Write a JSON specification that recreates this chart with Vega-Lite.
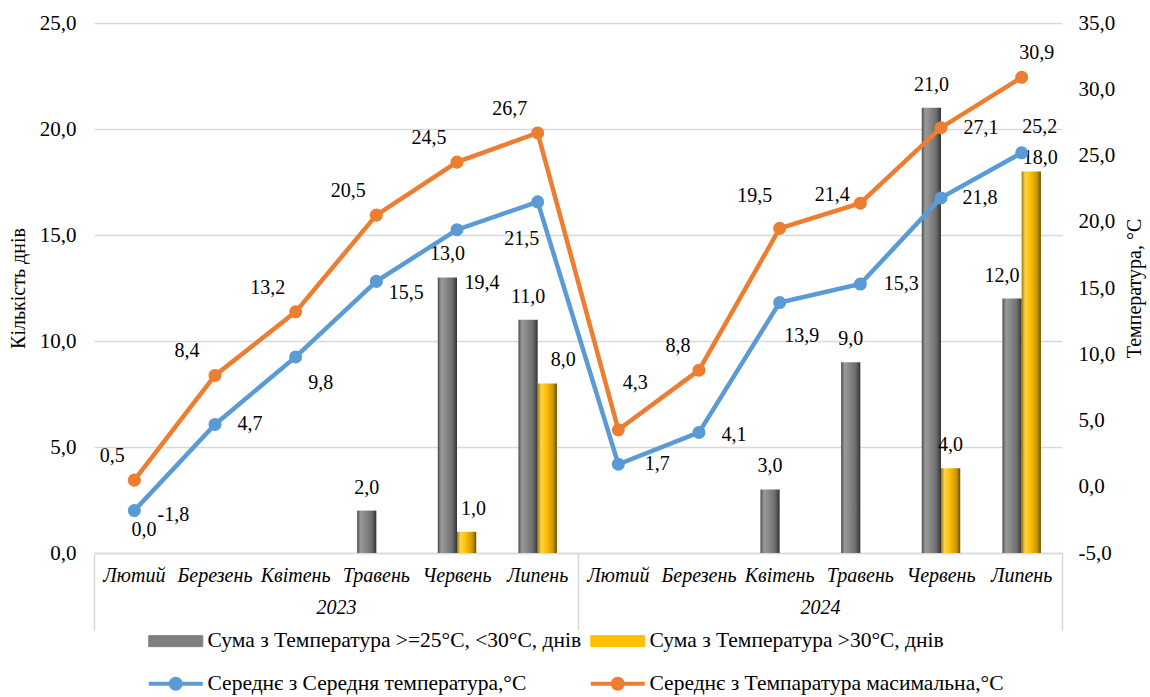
{
  "$schema": "https://vega.github.io/schema/vega-lite/v6.json",
  "width": 968,
  "height": 530,
  "autosize": "none",
  "padding": {"left": 94, "top": 23, "right": 88, "bottom": 144},
  "background": "white",
  "data": {"values": [
    {"n":1,"cat":"Лютий 2023","year":"2023","series":"Сума з Температура >=25°C, <30°C, днів","value":null},
    {"n":2,"cat":"Березень 2023","year":"2023","series":"Сума з Температура >=25°C, <30°C, днів","value":null},
    {"n":3,"cat":"Квітень 2023","year":"2023","series":"Сума з Температура >=25°C, <30°C, днів","value":null},
    {"n":4,"cat":"Травень 2023","year":"2023","series":"Сума з Температура >=25°C, <30°C, днів","value":2},
    {"n":5,"cat":"Червень 2023","year":"2023","series":"Сума з Температура >=25°C, <30°C, днів","value":13},
    {"n":6,"cat":"Липень 2023","year":"2023","series":"Сума з Температура >=25°C, <30°C, днів","value":11},
    {"n":7,"cat":"Лютий 2024","year":"2024","series":"Сума з Температура >=25°C, <30°C, днів","value":null},
    {"n":8,"cat":"Березень 2024","year":"2024","series":"Сума з Температура >=25°C, <30°C, днів","value":null},
    {"n":9,"cat":"Квітень 2024","year":"2024","series":"Сума з Температура >=25°C, <30°C, днів","value":3},
    {"n":10,"cat":"Травень 2024","year":"2024","series":"Сума з Температура >=25°C, <30°C, днів","value":9},
    {"n":11,"cat":"Червень 2024","year":"2024","series":"Сума з Температура >=25°C, <30°C, днів","value":21},
    {"n":12,"cat":"Липень 2024","year":"2024","series":"Сума з Температура >=25°C, <30°C, днів","value":12},
    {"n":1,"cat":"Лютий 2023","year":"2023","series":"Сума з Температура >30°C, днів","value":0},
    {"n":2,"cat":"Березень 2023","year":"2023","series":"Сума з Температура >30°C, днів","value":null},
    {"n":3,"cat":"Квітень 2023","year":"2023","series":"Сума з Температура >30°C, днів","value":null},
    {"n":4,"cat":"Травень 2023","year":"2023","series":"Сума з Температура >30°C, днів","value":null},
    {"n":5,"cat":"Червень 2023","year":"2023","series":"Сума з Температура >30°C, днів","value":1},
    {"n":6,"cat":"Липень 2023","year":"2023","series":"Сума з Температура >30°C, днів","value":8},
    {"n":7,"cat":"Лютий 2024","year":"2024","series":"Сума з Температура >30°C, днів","value":null},
    {"n":8,"cat":"Березень 2024","year":"2024","series":"Сума з Температура >30°C, днів","value":null},
    {"n":9,"cat":"Квітень 2024","year":"2024","series":"Сума з Температура >30°C, днів","value":null},
    {"n":10,"cat":"Травень 2024","year":"2024","series":"Сума з Температура >30°C, днів","value":null},
    {"n":11,"cat":"Червень 2024","year":"2024","series":"Сума з Температура >30°C, днів","value":4},
    {"n":12,"cat":"Липень 2024","year":"2024","series":"Сума з Температура >30°C, днів","value":18},
    {"n":1,"cat":"Лютий 2023","year":"2023","series":"Середнє з Середня температура,°C","value":-1.8},
    {"n":2,"cat":"Березень 2023","year":"2023","series":"Середнє з Середня температура,°C","value":4.7},
    {"n":3,"cat":"Квітень 2023","year":"2023","series":"Середнє з Середня температура,°C","value":9.8},
    {"n":4,"cat":"Травень 2023","year":"2023","series":"Середнє з Середня температура,°C","value":15.5},
    {"n":5,"cat":"Червень 2023","year":"2023","series":"Середнє з Середня температура,°C","value":19.4},
    {"n":6,"cat":"Липень 2023","year":"2023","series":"Середнє з Середня температура,°C","value":21.5},
    {"n":7,"cat":"Лютий 2024","year":"2024","series":"Середнє з Середня температура,°C","value":1.7},
    {"n":8,"cat":"Березень 2024","year":"2024","series":"Середнє з Середня температура,°C","value":4.1},
    {"n":9,"cat":"Квітень 2024","year":"2024","series":"Середнє з Середня температура,°C","value":13.9},
    {"n":10,"cat":"Травень 2024","year":"2024","series":"Середнє з Середня температура,°C","value":15.3},
    {"n":11,"cat":"Червень 2024","year":"2024","series":"Середнє з Середня температура,°C","value":21.8},
    {"n":12,"cat":"Липень 2024","year":"2024","series":"Середнє з Середня температура,°C","value":25.2},
    {"n":1,"cat":"Лютий 2023","year":"2023","series":"Середнє з Темпаратура масимальна,°C","value":0.5},
    {"n":2,"cat":"Березень 2023","year":"2023","series":"Середнє з Темпаратура масимальна,°C","value":8.4},
    {"n":3,"cat":"Квітень 2023","year":"2023","series":"Середнє з Темпаратура масимальна,°C","value":13.2},
    {"n":4,"cat":"Травень 2023","year":"2023","series":"Середнє з Темпаратура масимальна,°C","value":20.5},
    {"n":5,"cat":"Червень 2023","year":"2023","series":"Середнє з Темпаратура масимальна,°C","value":24.5},
    {"n":6,"cat":"Липень 2023","year":"2023","series":"Середнє з Темпаратура масимальна,°C","value":26.7},
    {"n":7,"cat":"Лютий 2024","year":"2024","series":"Середнє з Темпаратура масимальна,°C","value":4.3},
    {"n":8,"cat":"Березень 2024","year":"2024","series":"Середнє з Темпаратура масимальна,°C","value":8.8},
    {"n":9,"cat":"Квітень 2024","year":"2024","series":"Середнє з Темпаратура масимальна,°C","value":19.5},
    {"n":10,"cat":"Травень 2024","year":"2024","series":"Середнє з Темпаратура масимальна,°C","value":21.4},
    {"n":11,"cat":"Червень 2024","year":"2024","series":"Середнє з Темпаратура масимальна,°C","value":27.1},
    {"n":12,"cat":"Липень 2024","year":"2024","series":"Середнє з Темпаратура масимальна,°C","value":30.9}
  ]},
  "layer": [
    {
      "layer": [
        {
          "layer": [
            {
              "transform": [{"filter": "datum.series === 'Сума з Температура >=25°C, <30°C, днів' && datum.value != null"}],
              "mark": {"type": "bar", "fill": {"gradient": "linear", "x1": 0, "y1": 0, "x2": 1, "y2": 0, "stops": [
                {"offset": 0, "color": "#4d4d4d"}, {"offset": 0.18, "color": "#9a9a9a"}, {"offset": 0.4, "color": "#8a8a8a"}, {"offset": 0.75, "color": "#6e6e6e"}, {"offset": 1, "color": "#333333"}]}},
              "encoding": {
                "x": {"field": "cat", "type": "nominal", "sort": null,
                  "scale": {"type": "band", "domain": ["Лютий 2023","Березень 2023","Квітень 2023","Травень 2023","Червень 2023","Липень 2023","Лютий 2024","Березень 2024","Квітень 2024","Травень 2024","Червень 2024","Липень 2024"], "paddingInner": 0.523, "paddingOuter": 0.2615},
                  "axis": {"orient": "bottom", "title": null, "labelExpr": "split(datum.label, ' ')[0]", "labelAngle": 0, "labelFont": "Liberation Serif", "labelFontStyle": "italic", "labelFontSize": 20, "labelPadding": 12, "ticks": false, "domainColor": "#D9D9D9", "domainWidth": 1.5, "grid": false}},
                "xOffset": {"field": "series", "type": "nominal", "scale": {"domain": ["Сума з Температура >=25°C, <30°C, днів", "Сума з Температура >30°C, днів"]}},
                "y": {"field": "value", "type": "quantitative",
                  "scale": {"domain": [0, 25], "nice": false},
                  "axis": {"orient": "left", "title": "Кількість днів", "values": [0,5,10,15,20,25], "format": ".1f", "grid": true, "gridColor": "#D9D9D9", "gridWidth": 1.5, "domain": false, "ticks": false, "labelPadding": 18, "labelFont": "Liberation Serif", "titleFont": "Liberation Serif", "labelFontSize": 21, "titleFontSize": 20, "titlePadding": 11}}
              }
            },
            {
              "transform": [{"filter": "datum.series === 'Сума з Температура >30°C, днів' && datum.value != null"}],
              "mark": {"type": "bar", "fill": {"gradient": "linear", "x1": 0, "y1": 0, "x2": 1, "y2": 0, "stops": [
                {"offset": 0, "color": "#a07800"}, {"offset": 0.18, "color": "#ffd24d"}, {"offset": 0.45, "color": "#ffc000"}, {"offset": 0.8, "color": "#c89600"}, {"offset": 1, "color": "#6b5000"}]}},
              "encoding": {
                "x": {"field": "cat", "type": "nominal", "sort": null},
                "xOffset": {"field": "series", "type": "nominal"},
                "y": {"field": "value", "type": "quantitative"}
              }
            },
            {
              "transform": [{"filter": "datum.series === 'Сума з Температура >=25°C, <30°C, днів' && datum.value != null"}],
              "mark": {"type": "text", "font": "Liberation Serif", "fontSize": 20, "color": "#000000", "baseline": "middle", "align": "center",
                "dx": {"expr": "datum.cat === 'Липень 2024' ? -10 : 0"}, "dy": -23},
              "encoding": {
                "x": {"field": "cat", "type": "nominal", "sort": null},
                "xOffset": {"field": "series", "type": "nominal"},
                "y": {"field": "value", "type": "quantitative"},
                "text": {"field": "value", "type": "quantitative", "format": ".1f"}
              }
            },
            {
              "transform": [{"filter": "datum.series === 'Сума з Температура >30°C, днів' && datum.value != null"}],
              "mark": {"type": "text", "font": "Liberation Serif", "fontSize": 20, "color": "#000000", "baseline": "middle", "align": "center",
                "dx": {"expr": "datum.cat === 'Червень 2023' ? 7 : datum.cat === 'Липень 2023' ? 16 : datum.cat === 'Липень 2024' ? 9 : 0"},
                "dy": {"expr": "datum.cat === 'Липень 2024' ? -13 : -23"}},
              "encoding": {
                "x": {"field": "cat", "type": "nominal", "sort": null},
                "xOffset": {"field": "series", "type": "nominal"},
                "y": {"field": "value", "type": "quantitative"},
                "text": {"field": "value", "type": "quantitative", "format": ".1f"}
              }
            }
          ]
        },
        {
          "layer": [
            {
              "transform": [{"filter": "datum.series === 'Середнє з Середня температура,°C' || datum.series === 'Середнє з Темпаратура масимальна,°C'"}],
              "mark": {"type": "line", "strokeWidth": 4.5},
              "encoding": {
                "x": {"field": "cat", "type": "nominal", "sort": null},
                "y": {"field": "value", "type": "quantitative",
                  "scale": {"domain": [-5, 35], "nice": false, "zero": false},
                  "axis": {"orient": "right", "title": "Температура, °C", "values": [-5,0,5,10,15,20,25,30,35], "format": ".1f", "grid": false, "domain": false, "ticks": false, "labelPadding": 16, "labelFont": "Liberation Serif", "titleFont": "Liberation Serif", "labelFontSize": 21, "titleFontSize": 20, "titlePadding": 10, "titleAngle": 270, "titleBaseline": "top"}},
                "order": {"field": "n", "type": "quantitative"},
                "color": {"field": "series", "type": "nominal",
                  "scale": {"domain": ["Сума з Температура >=25°C, <30°C, днів", "Сума з Температура >30°C, днів", "Середнє з Середня температура,°C", "Середнє з Темпаратура масимальна,°C"], "range": ["#7F7F7F", "#FFC000", "#5B9BD5", "#ED7D31"]},
                  "legend": {"title": null, "orient": "none", "legendX": 54, "legendY": 607, "columns": 2, "direction": "horizontal", "symbolSize": 400, "labelOffset": 38, "rowPadding": 18, "columnPadding": 0, "padding": 0, "labelLimit": 700, "labelFont": "Liberation Serif", "labelFontSize": 21.5, "labelColor": "#000000",
                    "encode": {"symbols": {"update": {
                      "shape": {"signal": "datum.index < 2 ? 'M-1,-0.55H4.4V0.55H-1Z' : 'M-1,0H4.4M2.2,0A0.5,0.5 0 1 1 1.2,0A0.5,0.5 0 1 1 2.2,0'"},
                      "fill": {"signal": "datum.index === 0 ? '#8c8c8c' : datum.index === 1 ? '#FFC000' : datum.index === 2 ? '#5B9BD5' : '#ED7D31'"},
                      "stroke": {"signal": "datum.index === 0 ? '#404040' : datum.index === 1 ? '#7f6000' : datum.index === 2 ? '#5B9BD5' : '#ED7D31'"},
                      "strokeWidth": {"signal": "datum.index < 2 ? 1 : 4"},
                      "size": {"value": 400},
                      "opacity": {"value": 1},
                      "fillOpacity": {"value": 1},
                      "strokeOpacity": {"value": 1}
                    }}}}}
              }
            },
            {
              "transform": [{"filter": "datum.series === 'Середнє з Середня температура,°C' || datum.series === 'Середнє з Темпаратура масимальна,°C'"}],
              "mark": {"type": "point", "filled": true, "size": 170, "opacity": 1},
              "encoding": {
                "x": {"field": "cat", "type": "nominal", "sort": null},
                "y": {"field": "value", "type": "quantitative"},
                "color": {"field": "series", "type": "nominal"}
              }
            },
            {
              "transform": [{"filter": "datum.series === 'Середнє з Середня температура,°C'"}],
              "mark": {"type": "text", "font": "Liberation Serif", "fontSize": 20, "color": "#000000", "baseline": "middle", "align": "center",
                "dx": {"expr": "datum.cat === 'Березень 2023' ? 35 : datum.cat === 'Квітень 2023' ? 25 : datum.cat === 'Травень 2023' ? 30 : datum.cat === 'Червень 2023' ? 25 : datum.cat === 'Липень 2023' ? -16 : datum.cat === 'Березень 2024' ? 35 : datum.cat === 'Квітень 2024' ? 22 : datum.cat === 'Травень 2024' ? 41 : datum.cat === 'Липень 2024' ? 18 : 39"},
                "dy": {"expr": "datum.cat === 'Лютий 2023' ? 4 : datum.cat === 'Квітень 2023' ? 26 : datum.cat === 'Травень 2023' ? 12 : datum.cat === 'Червень 2023' ? 53 : datum.cat === 'Липень 2023' ? 37 : datum.cat === 'Березень 2024' ? 3 : datum.cat === 'Квітень 2024' ? 33 : datum.cat === 'Липень 2024' ? -26 : 0"}},
              "encoding": {
                "x": {"field": "cat", "type": "nominal", "sort": null},
                "y": {"field": "value", "type": "quantitative"},
                "text": {"field": "value", "type": "quantitative", "format": ".1f"}
              }
            },
            {
              "transform": [{"filter": "datum.series === 'Середнє з Темпаратура масимальна,°C'"}],
              "mark": {"type": "text", "font": "Liberation Serif", "fontSize": 20, "color": "#000000", "baseline": "middle", "align": "center",
                "dx": {"expr": "datum.cat === 'Лютий 2023' ? -22 : datum.cat === 'Лютий 2024' ? 17 : datum.cat === 'Березень 2024' ? -21 : datum.cat === 'Квітень 2024' ? -25 : datum.cat === 'Червень 2024' ? 40 : datum.cat === 'Липень 2024' ? 15 : -28"},
                "dy": {"expr": "datum.cat === 'Лютий 2024' ? -47 : datum.cat === 'Квітень 2024' ? -32 : datum.cat === 'Травень 2024' ? -8 : datum.cat === 'Червень 2024' ? 0 : -24"}},
              "encoding": {
                "x": {"field": "cat", "type": "nominal", "sort": null},
                "y": {"field": "value", "type": "quantitative"},
                "text": {"field": "value", "type": "quantitative", "format": ".1f"}
              }
            }
          ]
        }
      ],
      "resolve": {"scale": {"y": "independent"}, "axis": {"y": "independent"}}
    },
    {
      "mark": {"type": "rule", "opacity": 0},
      "encoding": {
        "x": {"field": "year", "type": "nominal",
          "scale": {"type": "band", "domain": ["2023", "2024"], "paddingInner": 0, "paddingOuter": 0},
          "axis": {"orient": "bottom", "title": null, "labelAngle": 0, "labelFont": "Liberation Serif", "labelFontStyle": "italic", "labelFontSize": 20, "tickBand": "extent", "ticks": true, "tickSize": 77, "tickColor": "#D9D9D9", "tickWidth": 1.5, "domain": false, "grid": false, "labelPadding": -33}}
      }
    }
  ],
  "resolve": {"scale": {"x": "independent", "y": "independent"}, "axis": {"x": "independent", "y": "independent"}},
  "config": {
    "view": {"stroke": null},
    "font": "Liberation Serif",
    "locale": {"number": {"decimal": ",", "thousands": " ", "grouping": [3], "currency": ["", ""], "minus": "-"}},
    "axis": {"labelFont": "Liberation Serif", "titleFont": "Liberation Serif", "labelColor": "#000000", "titleColor": "#000000", "titleFontWeight": "normal"},
    "legend": {"labelFont": "Liberation Serif"}
  }
}
